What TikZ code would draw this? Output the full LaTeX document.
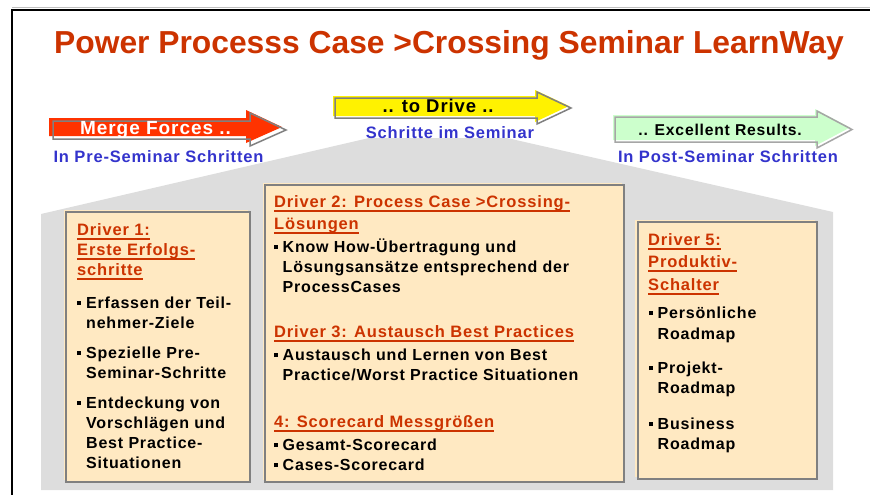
\documentclass[tikz,border=0pt]{standalone}
\usepackage{fontspec}
\setmainfont{Liberation Sans}
\newfontfamily\tfont[LetterSpace=5]{Liberation Sans}
\definecolor{hred}{HTML}{CC3300}
\definecolor{lblue}{HTML}{3333CC}
\definecolor{boxc}{HTML}{FFE9C2}
\definecolor{bgg}{HTML}{DDDDDD}
\definecolor{olg}{HTML}{808080}
\definecolor{arred}{HTML}{FF3300}
\definecolor{argreen}{HTML}{CCFFCC}
\newsavebox\hdbox
\newcommand\hdl[1]{\sbox\hdbox{#1}\rlap{\color{hred}\rule[-4.5pt]{\wd\hdbox}{1.6pt}}\usebox\hdbox}
\newcommand\hd[1]{{\fontsize{16.5}{20}\selectfont\color{hred}\hdl{#1}}}
\newcommand\bul{\makebox[9pt][l]{\rule[3pt]{4pt}{4pt}}}
\newcommand\bulb{\makebox[8.5pt][l]{\rule[3pt]{4pt}{4pt}}}
\newcommand\ind{\hspace*{9pt}}
\newcommand\indb{\hspace*{8.5pt}}
\tikzset{
  txt/.style={inner sep=0pt, anchor=base west, font=\tfont\bfseries\fontsize{16}{20}\selectfont},
  lbl/.style={inner sep=0pt, anchor=base, text=lblue, font=\tfont\bfseries\fontsize{16.5}{18}\selectfont},
  artxt/.style={inner sep=0pt, anchor=base, font=\tfont\bfseries},
  boxline/.style={draw=olg, line width=1.5pt, fill=boxc},
  arline/.style={draw=olg, line width=1.5pt},
}
\begin{document}
\begin{tikzpicture}[x=1pt,y=-1pt]
\useasboundingbox (0,0) rectangle (870,495);
% frame
\draw[draw=black!25, line width=1pt] (12,7.5) -- (875,7.5);
\draw[line width=2pt] (12,500) -- (12,10) -- (875,10);
% title
\node[inner sep=0pt, anchor=base, text=hred, font=\bfseries\fontsize{31.8}{36}\selectfont] (title) at (449,54) {Power Processs Case >Crossing Seminar LearnWay};
% gray background
\fill[bgg] (41,490) -- (41,214) -- (369,138) -- (507,138) -- (833,212) -- (833,490) -- cycle;
% arrows
\fill[arred, shift={(-4,-3)}] (53,121) -- (250,121) -- (250,113) -- (286,130) -- (250,146) -- (250,139) -- (53,139) -- cycle;
\draw[arline] (53,121) -- (250,121) -- (250,113) -- (286,130) -- (250,146) -- (250,139) -- (53,139) -- cycle;
\fill[yellow, shift={(-2,-2)}] (335,98) -- (537,98) -- (537,92) -- (571,108) -- (537,124) -- (537,118) -- (335,118) -- cycle;
\draw[arline] (335,98) -- (537,98) -- (537,92) -- (571,108) -- (537,124) -- (537,118) -- (335,118) -- cycle;
\fill[argreen, shift={(-2,-2)}] (615,117) -- (817,117) -- (817,111) -- (852,129.5) -- (817,148) -- (817,142) -- (615,142) -- cycle;
\draw[arline, draw=black!35] (615,117) -- (817,117) -- (817,111) -- (852,129.5) -- (817,148) -- (817,142) -- (615,142) -- cycle;
\node[artxt, text=white, font=\tfont\bfseries\fontsize{19}{20}\selectfont] (merge) at (155.5,134) {Merge Forces ..};
\node[artxt, font=\tfont\bfseries\fontsize{18.5}{20}\selectfont] (drive) at (438,112) {.. to Drive ..};
\node[artxt, font=\tfont\bfseries\fontsize{15.7}{18}\selectfont] (excel) at (720,135) {.. Excellent Results.};
\node[lbl] (pre) at (158.5,162) {In Pre-Seminar Schritten};
\node[lbl] (im) at (450,138) {Schritte im Seminar};
\node[lbl] (post) at (728,162) {In Post-Seminar Schritten};
% boxes
\fill[boxc] (64,210) rectangle (248,480);
\draw[boxline] (66,212) rectangle (250,482);
\fill[boxc] (263,183) rectangle (622,480);
\draw[boxline] (265,185) rectangle (624,482);
\fill[boxc] (635,220) rectangle (815,477);
\draw[boxline] (638,222) rectangle (817,479);
% box 1 text
\node[txt] (t1) at (77,235) {\parbox[t]{170pt}{\leavevmode
\hd{Driver 1:}\\
\hd{Erste Erfolgs-}\\
\hd{schritte}\\[13pt]
\bul Erfassen der Teil-\\
\ind nehmer-Ziele\\[10pt]
\bul Spezielle Pre-\\
\ind Seminar-Schritte\\[10pt]
\bul Entdeckung von\\
\ind Vorschlägen und\\
\ind Best Practice-\\
\ind Situationen}};
% box 2 text
\node[txt] (t2) at (274,207) {\parbox[t]{345pt}{\leavevmode
\hd{Driver 2: Process Case >Crossing-}\\[2pt]
\hd{Lösungen}\\[3pt]
\bulb Know How-Übertragung und\\
\indb Lösungsansätze entsprechend der\\
\indb ProcessCases\\[25pt]
\hd{Driver 3: Austausch Best Practices}\\[3pt]
\bulb Austausch und Lernen von Best\\
\indb Practice/Worst Practice Situationen\\[27pt]
\hd{4: Scorecard Messgrößen}\\[3pt]
\bulb Gesamt-Scorecard\\
\bulb Cases-Scorecard}};
% box 3 text
\node[txt] (t3) at (648,245) {\parbox[t]{165pt}{\leavevmode
\hd{Driver 5:}\\[2pt]
\hd{Produktiv-}\\[3pt]
\hd{Schalter}\\[8pt]
\hspace*{1pt}\bulb Persönliche\\[1pt]
\hspace*{1pt}\indb Roadmap\\[14pt]
\hspace*{1pt}\bulb Projekt-\\
\hspace*{1pt}\indb Roadmap\\[16pt]
\hspace*{1pt}\bulb Business\\
\hspace*{1pt}\indb Roadmap}};
\end{tikzpicture}
\end{document}
